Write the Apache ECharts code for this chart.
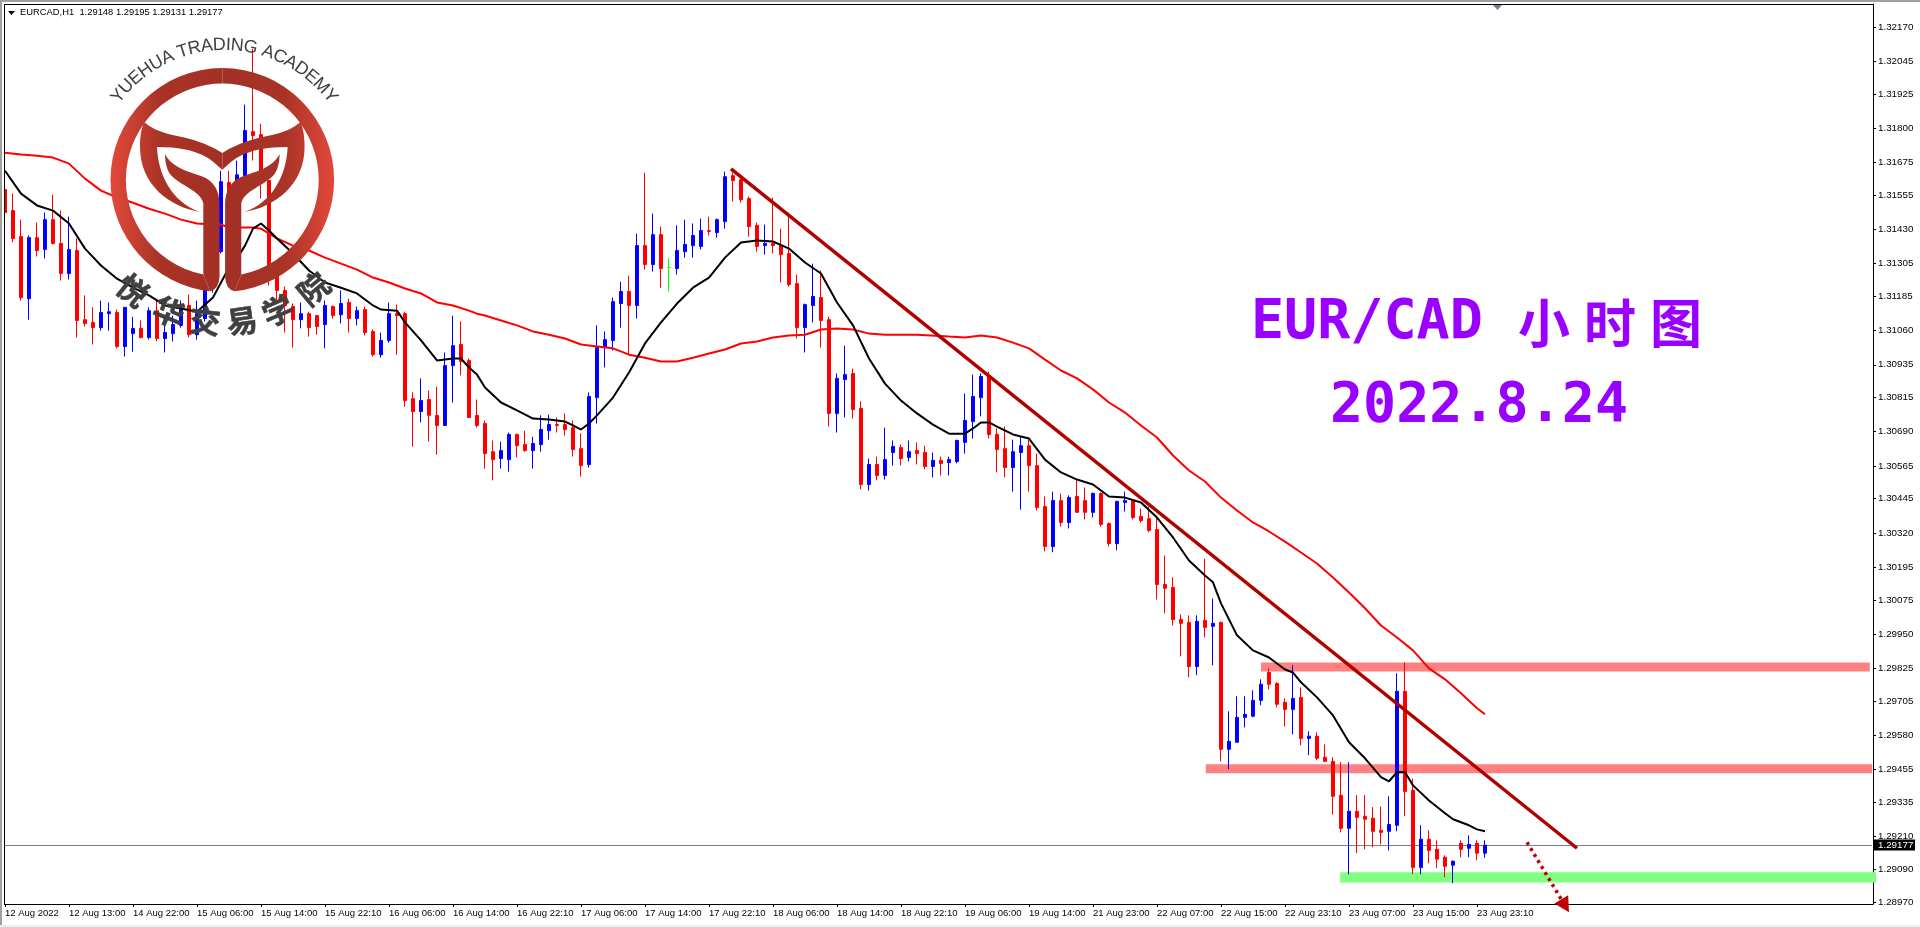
<!DOCTYPE html>
<html>
<head>
<meta charset="utf-8">
<title>EUR/CAD H1</title>
<style>
  html, body { margin: 0; padding: 0; background: #fff; }
  #chart { width: 1920px; height: 927px; }
</style>
<script src="https://cdn.jsdelivr.net/npm/echarts@6/dist/echarts.min.js"></script>
</head>
<body>
<div id="chart"></div>
<script>
// date labels of the time axis, one every 8 candles
const timeLabels = ['12 Aug 2022','12 Aug 13:00','14 Aug 22:00','15 Aug 06:00','15 Aug 14:00','15 Aug 22:10','16 Aug 06:00','16 Aug 14:00','16 Aug 22:10','17 Aug 06:00','17 Aug 14:00','17 Aug 22:10','18 Aug 06:00','18 Aug 14:00','18 Aug 22:10','19 Aug 06:00','19 Aug 14:00','21 Aug 23:00','22 Aug 07:00','22 Aug 15:00','22 Aug 23:10','23 Aug 07:00','23 Aug 15:00','23 Aug 23:10'];
const priceTicks = [1.32170,1.32045,1.31925,1.31800,1.31675,1.31555,1.31430,1.31305,1.31185,1.31060,1.30935,1.30815,1.30690,1.30565,1.30445,1.30320,1.30195,1.30075,1.29950,1.29825,1.29705,1.29580,1.29455,1.29335,1.29210,1.29090,1.28970];

const opens = [
1.31576,1.31499,1.31404,1.31177,1.31400,1.31357,1.31466,1.31379,1.31269,1.31353,
1.31100,1.31090,1.31071,1.31122,1.31126,1.31002,1.31049,1.31068,1.31035,1.31133,
1.31031,1.31049,1.31079,1.31152,1.31045,1.31104,1.31217,1.31349,1.31602,1.31481,
1.31627,1.31788,1.31777,1.31609,1.31280,1.31207,1.31148,1.31100,1.31122,1.31115,
1.31082,1.31148,1.31118,1.31163,1.31104,1.31137,1.31057,1.30972,1.31024,1.31122,
1.31122,1.30811,1.30764,1.30808,1.30750,1.30713,1.30932,1.31009,1.30951,1.30750,
1.30720,1.30617,1.30592,1.30588,1.30680,1.30643,1.30621,1.30643,1.30694,1.30716,
1.30716,1.30705,1.30628,1.30570,1.30815,1.30998,1.31024,1.31159,1.31203,1.31152,
1.31371,1.31302,1.31411,1.31291,1.31287,1.31349,1.31371,1.31368,1.31426,1.31419,
1.31459,1.31627,1.31612,1.31543,1.31445,1.31371,1.31379,1.31371,1.31342,1.31232,
1.31071,1.31152,1.31181,1.31100,1.30757,1.30881,1.30903,1.30775,1.30497,1.30570,
1.30530,1.30614,1.30632,1.30596,1.30621,1.30614,1.30563,1.30585,1.30577,1.30581,
1.30651,1.30727,1.30815,1.30892,1.30680,1.30628,1.30559,1.30614,1.30639,1.30566,
1.30416,1.30270,1.30438,1.30358,1.30453,1.30438,1.30395,1.30464,1.30354,1.30281,
1.30431,1.30438,1.30380,1.30372,1.30332,1.30131,1.30120,1.30003,1.29992,1.29831,
1.30000,1.29978,1.29992,1.29528,1.29554,1.29645,1.29649,1.29707,1.29809,1.29769,
1.29700,1.29674,1.29718,1.29568,1.29576,1.29499,1.29484,1.29360,1.29239,1.29301,
1.29283,1.29276,1.29232,1.29228,1.29250,1.29740,1.29378,1.29096,1.29199,1.29162,
1.29133,1.29104,1.29184,1.29166,1.29184,1.29148];
const closes = [
1.31492,1.31397,1.31181,1.31400,1.31353,1.31466,1.31379,1.31269,1.31357,1.31097,
1.31086,1.31071,1.31126,1.31129,1.31002,1.31145,1.31068,1.31035,1.31133,1.31031,
1.31053,1.31082,1.31137,1.31045,1.31122,1.31221,1.31349,1.31605,1.31481,1.31630,
1.31792,1.31774,1.31645,1.31280,1.31207,1.31152,1.31100,1.31122,1.31071,1.31075,
1.31152,1.31115,1.31159,1.31104,1.31133,1.31053,1.30972,1.31024,1.31122,1.31115,
1.30804,1.30764,1.30804,1.30750,1.30713,1.30932,1.31005,1.30947,1.30742,1.30713,
1.30610,1.30588,1.30621,1.30680,1.30639,1.30621,1.30647,1.30698,1.30716,1.30713,
1.30698,1.30625,1.30566,1.30819,1.30998,1.31027,1.31166,1.31203,1.31152,1.31371,
1.31302,1.31411,1.31287,1.31291,1.31353,1.31375,1.31408,1.31426,1.31423,1.31466,
1.31623,1.31609,1.31539,1.31441,1.31368,1.31379,1.31371,1.31338,1.31228,1.31071,
1.31155,1.31185,1.31097,1.30757,1.30885,1.30899,1.30771,1.30497,1.30570,1.30530,
1.30588,1.30636,1.30592,1.30617,1.30610,1.30563,1.30585,1.30574,1.30588,1.30658,
1.30731,1.30819,1.30892,1.30680,1.30625,1.30559,1.30617,1.30639,1.30566,1.30413,
1.30270,1.30438,1.30358,1.30449,1.30395,1.30395,1.30464,1.30351,1.30281,1.30435,
1.30438,1.30376,1.30365,1.30329,1.30131,1.30117,1.30003,1.29989,1.29831,1.29996,
1.29974,1.29989,1.29528,1.29557,1.29645,1.29656,1.29707,1.29766,1.29766,1.29693,
1.29674,1.29714,1.29568,1.29576,1.29495,1.29484,1.29356,1.29239,1.29301,1.29279,
1.29272,1.29228,1.29224,1.29253,1.29740,1.29374,1.29096,1.29199,1.29158,1.29126,
1.29100,1.29118,1.29162,1.29180,1.29148,1.29177];
const lows = [
1.31488,1.31383,1.31170,1.31100,1.31331,1.31324,1.31375,1.31243,1.31247,1.31034,
1.31075,1.31009,1.31060,1.31060,1.30995,1.30965,1.30983,1.31031,1.31027,1.31020,
1.30980,1.31020,1.31071,1.31035,1.31027,1.31093,1.31199,1.31342,1.31426,1.31445,
1.31609,1.31682,1.31543,1.31225,1.31170,1.31053,1.30998,1.31068,1.31038,1.31045,
1.30995,1.31104,1.31086,1.31053,1.31079,1.31042,1.30965,1.30961,1.31016,1.30972,
1.30782,1.30636,1.30724,1.30654,1.30606,1.30713,1.30797,1.30896,1.30742,1.30705,
1.30555,1.30512,1.30555,1.30544,1.30596,1.30617,1.30555,1.30617,1.30661,1.30687,
1.30676,1.30599,1.30526,1.30559,1.30720,1.30925,1.30987,1.31071,1.30972,1.31104,
1.31283,1.31276,1.31217,1.31203,1.31265,1.31327,1.31327,1.31357,1.31408,1.31400,
1.31433,1.31532,1.31528,1.31404,1.31349,1.31338,1.31342,1.31236,1.31221,1.31031,
1.30980,1.31090,1.30998,1.30709,1.30687,1.30742,1.30738,1.30479,1.30475,1.30512,
1.30515,1.30566,1.30566,1.30581,1.30570,1.30552,1.30523,1.30530,1.30530,1.30574,
1.30610,1.30665,1.30746,1.30665,1.30541,1.30523,1.30471,1.30405,1.30471,1.30402,
1.30252,1.30249,1.30343,1.30336,1.30395,1.30369,1.30376,1.30343,1.30270,1.30256,
1.30398,1.30369,1.30358,1.30322,1.30076,1.30025,1.29981,1.29868,1.29791,1.29799,
1.29937,1.29835,1.29484,1.29455,1.29554,1.29608,1.29645,1.29689,1.29747,1.29681,
1.29612,1.29583,1.29543,1.29506,1.29488,1.29481,1.29290,1.29224,1.29071,1.29148,
1.29162,1.29170,1.29180,1.29158,1.29228,1.29283,1.29071,1.29071,1.29111,1.29093,
1.29060,1.29038,1.29133,1.29133,1.29122,1.29131];
const highs = [
1.31580,1.31561,1.31466,1.31408,1.31456,1.31492,1.31557,1.31499,1.31477,1.31397,
1.31189,1.31145,1.31170,1.31163,1.31137,1.31145,1.31111,1.31097,1.31145,1.31170,
1.31079,1.31115,1.31170,1.31192,1.31170,1.31243,1.31371,1.31645,1.31645,1.31682,
1.31887,1.32091,1.31817,1.31609,1.31309,1.31221,1.31159,1.31163,1.31129,1.31115,
1.31170,1.31152,1.31207,1.31177,1.31148,1.31148,1.31064,1.31053,1.31163,1.31155,
1.31129,1.30834,1.30885,1.30841,1.30855,1.30980,1.31115,1.31093,1.30958,1.30808,
1.30731,1.30658,1.30654,1.30687,1.30683,1.30694,1.30672,1.30750,1.30753,1.30742,
1.30757,1.30731,1.30683,1.30834,1.31079,1.31057,1.31181,1.31239,1.31261,1.31415,
1.31638,1.31488,1.31441,1.31324,1.31445,1.31466,1.31452,1.31470,1.31477,1.31470,
1.31642,1.31638,1.31623,1.31550,1.31456,1.31448,1.31547,1.31433,1.31492,1.31265,
1.31159,1.31305,1.31280,1.31111,1.30903,1.31005,1.30921,1.30801,1.30592,1.30599,
1.30705,1.30658,1.30643,1.30658,1.30651,1.30639,1.30614,1.30599,1.30599,1.30661,
1.30830,1.30899,1.30903,1.30910,1.30702,1.30709,1.30661,1.30672,1.30661,1.30610,
1.30453,1.30471,1.30464,1.30457,1.30512,1.30486,1.30468,1.30468,1.30358,1.30438,
1.30471,1.30442,1.30409,1.30416,1.30383,1.30237,1.30157,1.30022,1.30018,1.30018,
1.30226,1.30080,1.29996,1.29667,1.29722,1.29722,1.29744,1.29784,1.29824,1.29773,
1.29714,1.29835,1.29755,1.29594,1.29590,1.29546,1.29499,1.29481,1.29481,1.29360,
1.29360,1.29316,1.29319,1.29356,1.29806,1.29846,1.29421,1.29250,1.29232,1.29195,
1.29140,1.29122,1.29195,1.29213,1.29195,1.29195];

// moving averages, read at the candles listed in the *Idx arrays
const fastIdx = [0,2,4,6,8,10,12,14,16,18,20,22,24,26,27,28,29,30,31,32,33,34,36,38,40,42,44,46,47,49,50,52,54,56,57,58,59,60,62,64,66,68,70,71,72,73,74,76,78,80,82,84,86,88,90,92,94,96,98,100,102,104,106,108,110,112,114,116,118,120,121,122,123,124,126,128,130,132,134,136,138,140,142,144,146,148,150,151,152,154,156,158,159,160,161,162,164,166,168,170,172,173,174,175,176,178,180,181,182,183,184,185];
const fastMa = [1.31645,1.31561,1.31518,1.31499,1.31452,1.31360,1.31298,1.31250,1.31217,1.31189,1.31152,1.31141,1.31129,1.31181,1.31236,1.31291,1.31324,1.31371,1.31433,1.31452,1.31426,1.31397,1.31342,1.31280,1.31236,1.31217,1.31196,1.31152,1.31137,1.31133,1.31090,1.31024,1.30951,1.30958,1.30958,1.30925,1.30899,1.30852,1.30797,1.30768,1.30738,1.30735,1.30727,1.30713,1.30698,1.30720,1.30750,1.30815,1.30907,1.31013,1.31090,1.31159,1.31217,1.31254,1.31327,1.31382,1.31390,1.31386,1.31360,1.31309,1.31269,1.31163,1.31079,1.30958,1.30866,1.30804,1.30757,1.30716,1.30683,1.30683,1.30702,1.30724,1.30724,1.30709,1.30680,1.30665,1.30588,1.30541,1.30515,1.30497,1.30453,1.30449,1.30431,1.30376,1.30303,1.30219,1.30164,1.30139,1.30062,1.29945,1.29890,1.29864,1.29842,1.29820,1.29809,1.29773,1.29718,1.29652,1.29554,1.29495,1.29426,1.29411,1.29444,1.29444,1.29396,1.29341,1.29294,1.29272,1.29261,1.29250,1.29235,1.29228];
const slowIdx = [0,2,4,6,8,10,12,14,16,18,20,22,24,26,27,28,30,31,32,34,36,38,40,42,44,46,48,50,52,54,56,58,59,60,62,64,66,68,70,72,74,76,78,80,82,84,86,88,90,92,94,96,98,100,102,104,106,108,110,114,118,120,122,124,126,128,130,132,134,136,138,140,142,144,146,148,150,152,154,156,158,160,162,164,166,168,170,172,174,176,178,180,182,184,185];
const slowMa = [1.31711,1.31704,1.31700,1.31693,1.31671,1.31616,1.31572,1.31547,1.31528,1.31506,1.31488,1.31466,1.31452,1.31448,1.31448,1.31437,1.31437,1.31437,1.31433,1.31397,1.31371,1.31353,1.31327,1.31305,1.31283,1.31254,1.31236,1.31214,1.31196,1.31163,1.31152,1.31133,1.31122,1.31115,1.31097,1.31079,1.31057,1.31045,1.31031,1.31009,1.31002,1.30995,1.30972,1.30961,1.30947,1.30947,1.30961,1.30976,1.30991,1.31013,1.31020,1.31035,1.31042,1.31045,1.31064,1.31068,1.31064,1.31049,1.31045,1.31045,1.31038,1.31035,1.31042,1.31035,1.31016,1.30995,1.30954,1.30914,1.30885,1.30845,1.30797,1.30760,1.30713,1.30669,1.30603,1.30548,1.30508,1.30449,1.30402,1.30358,1.30325,1.30288,1.30248,1.30208,1.30157,1.30102,1.30044,1.29981,1.29937,1.29890,1.29824,1.29784,1.29733,1.29678,1.29656];

// support / resistance bands, x in candle numbers
const zoneFrom = [157, 150.1, 166.9];
const zoneTo = [233.1, 233.4, 233.9];
const zoneTop = [1.29846, 1.29473, 1.29078];
const zoneBottom = [1.29813, 1.29440, 1.29041];
const zoneColors = ['#ff8080', '#ff8080', '#80ff80'];
// trend line and dotted arrow, [candle number, price]
const trendFrom = [90.75, 1.31652];
const trendTo = [196.5, 1.29166];
const arrowFrom = [190.25, 1.29188];
const arrowTo = [195.5, 1.28932];

const dojiIndex = 83;
const lastClose = 1.29177;
const headerText = 'EURCAD,H1  1.29148 1.29195 1.29131 1.29177';
const academyEn = 'YUEHUA TRADING ACADEMY';
const academyCn = ['悦', '华', '交', '易', '学', '院'];
const academyCnAngles = [-39, -22, -7, 8, 23, 40];

const axisCount = 234;
const categories = [];
for (let i = 0; i < axisCount; i++) {
  categories.push(i % 8 === 0 && timeLabels[i / 8] ? timeLabels[i / 8] : '');
}
const isTimeTick = function (i) { return i % 8 === 0 && i < timeLabels.length * 8; };

const candles = opens.map(function (o, i) {
  const row = [o, closes[i], lows[i], highs[i]];
  if (i === dojiIndex) {
    return { value: row, itemStyle: { color: '#00ff00', color0: '#00ff00', borderColor: '#00ff00', borderColor0: '#00ff00', borderColorDoji: '#00ff00' } };
  }
  return row;
});

function candleX(api, n) {
  return api.coord([0, priceTicks[0]])[0] + n * api.size([1, 0])[0];
}

const labelFont = '"Liberation Sans", Arial, sans-serif';
const chart = echarts.init(document.getElementById('chart'), null, { renderer: 'canvas' });

function renderZone(params, api) {
  const i = params.dataIndex;
  const x0 = candleX(api, zoneFrom[i]);
  const x1 = candleX(api, zoneTo[i]);
  const y0 = api.coord([0, zoneTop[i]])[1];
  const y1 = api.coord([0, zoneBottom[i]])[1];
  return { type: 'rect', shape: { x: x0, y: y0, width: x1 - x0, height: y1 - y0 }, style: { fill: zoneColors[i] } };
}

function renderTrend(params, api) {
  return {
    type: 'line',
    shape: {
      x1: candleX(api, trendFrom[0]), y1: api.coord([0, trendFrom[1]])[1],
      x2: candleX(api, trendTo[0]), y2: api.coord([0, trendTo[1]])[1]
    },
    style: { stroke: '#b00000', lineWidth: 3.5 }
  };
}

function renderArrow(params, api) {
  const x1 = candleX(api, arrowFrom[0]), y1 = api.coord([0, arrowFrom[1]])[1];
  const x2 = candleX(api, arrowTo[0]), y2 = api.coord([0, arrowTo[1]])[1];
  const len = Math.sqrt((x2 - x1) * (x2 - x1) + (y2 - y1) * (y2 - y1));
  const ux = (x2 - x1) / len, uy = (y2 - y1) / len;
  const bx = x2 - ux * 15, by = y2 - uy * 15;
  return {
    type: 'group',
    children: [
      { type: 'line', shape: { x1: x1, y1: y1, x2: bx, y2: by }, style: { stroke: '#c00000', lineWidth: 3.5, lineDash: [3, 4] } },
      { type: 'polygon', shape: { points: [[x2, y2], [bx - uy * 8, by + ux * 8], [bx + uy * 8, by - ux * 8]] }, style: { fill: '#c00000' } }
    ]
  };
}

// current price: thin line and the black box on the axis
function renderPrice(params, api) {
  const y = Math.round(api.coord([0, lastClose])[1]) + 0.5;
  return {
    type: 'group',
    children: [
      { type: 'line', shape: { x1: 4, y1: y, x2: 1872, y2: y }, style: { stroke: '#708090', lineWidth: 1 } },
      { type: 'rect', shape: { x: 1874, y: y - 6, width: 41, height: 11 }, style: { fill: '#000' } },
      { type: 'text', x: 1878, y: y - 0.5, style: { text: lastClose.toFixed(5), font: '9.8px ' + labelFont, fill: '#fff', verticalAlign: 'middle' } }
    ]
  };
}

// logo on top of the chart, left half gets mirrored for the right half
const logoX = 222.3, logoY = 180;
function renderLogo() {
  const fill = new echarts.graphic.LinearGradient(110, 0, 222, 0, [
    { offset: 0, color: '#e2493a' },
    { offset: 0.45, color: '#a93327' },
    { offset: 1, color: '#a33025' }
  ], true);
  const half = [
    'M222.3 68 A112 112 0 0 0 210 291.3 L203.3 274.6 A96.5 96.5 0 0 1 222.3 83.5 Z',
    'M165 154 C172 168 190 172 201 176 C213 180 219.5 190 219.5 204 L219.5 277 Q219 289 210 291.3 L203.3 274.6 L203.3 203 C200 190 180 186 170 174 C166 168 165 160 165 154 Z',
    'M144 122 C158 134 175 135 190 139 C204 143 215 148 222.3 153 L222.3 170 C212 160 200 147 157 147 C158 175 172 202 200 212 C170 207 140 185 140 147 C140 137 141 130 144 122 Z'
  ].map(function (d) {
    return { type: 'path', shape: { pathData: d }, style: { fill: fill } };
  });
  const children = [
    { type: 'group', children: half },
    { type: 'group', x: logoX * 2, scaleX: -1, children: half.map(function (h) { return Object.assign({}, h); }) }
  ];
  // curved english text
  const measure = document.createElement('canvas').getContext('2d');
  const enFont = '18px "Liberation Sans", Arial, sans-serif';
  measure.font = enFont;
  const enR = 135;
  const total = measure.measureText(academyEn).width;
  let run = 0;
  academyEn.split('').forEach(function (c) {
    const w = measure.measureText(c).width;
    const a = (run + w / 2 - total / 2) / enR;
    run += w;
    children.push({
      type: 'text',
      x: logoX + 2 + enR * Math.sin(a), y: logoY - enR * Math.cos(a), rotation: -a,
      style: { text: c, font: enFont, fill: '#404040', align: 'center', verticalAlign: 'middle' }
    });
  });
  academyCn.forEach(function (c, i) {
    const a = academyCnAngles[i] * Math.PI / 180;
    children.push({
      type: 'text',
      x: logoX + 142 * Math.sin(a), y: logoY + 142 * Math.cos(a), rotation: a,
      style: { text: c, font: 'bold 31px "Noto Sans CJK SC", sans-serif', fill: '#404040', stroke: '#404040', lineWidth: 0.5, align: 'center', verticalAlign: 'middle' }
    });
  });
  return { type: 'group', children: children };
}

const bigMono = 'bold 55px "DejaVu Sans Mono", monospace';
const bigCjk = 'bold 52px "Noto Sans CJK SC", sans-serif';
function bigText(text, x, y, font) {
  return { type: 'text', z: 90, x: x, y: y, style: { text: text, font: font, fill: '#9900ff', align: 'left', verticalAlign: 'middle' } };
}

chart.setOption({
  animation: false,
  backgroundColor: '#ffffff',
  grid: { left: 1, top: 4, width: 1872, height: 900, containLabel: false, show: false },
  xAxis: {
    type: 'category',
    data: categories,
    boundaryGap: true,
    axisLine: { show: true, lineStyle: { color: '#000', width: 1 } },
    axisTick: { show: true, length: 3, alignWithLabel: true, interval: isTimeTick, lineStyle: { color: '#000' } },
    axisLabel: { interval: isTimeTick, align: 'left', margin: 4, color: '#000', fontFamily: labelFont, fontSize: 9.5, hideOverlap: false },
    splitLine: { show: false }
  },
  yAxis: {
    type: 'value',
    position: 'right',
    min: 1.28962,
    max: 1.32255,
    axisLine: { show: true, lineStyle: { color: '#000', width: 1 } },
    axisTick: { show: true, length: 3, customValues: priceTicks, lineStyle: { color: '#000' } },
    axisLabel: {
      customValues: priceTicks, margin: 5, color: '#000', fontFamily: labelFont, fontSize: 9.8,
      formatter: function (v) { return v.toFixed(5); }
    },
    splitLine: { show: false }
  },
  series: [
    { type: 'custom', name: 'zones', z: 1, silent: true, renderItem: renderZone, data: zoneFrom.map(function (v, i) { return [i, zoneTop[i]]; }) },
    { type: 'custom', name: 'price', z: 1, silent: true, renderItem: renderPrice, data: [[0, lastClose]] },
    {
      type: 'candlestick',
      name: 'EURCAD',
      z: 2,
      barWidth: 4,
      clip: true,
      itemStyle: { color: '#0000ff', color0: '#ff0000', borderColor: '#0000ff', borderColor0: '#ff0000', borderColorDoji: '#ff0000', borderWidth: 1 },
      data: candles
    },
    {
      type: 'line', name: 'slow', z: 3, symbol: 'none', silent: true,
      lineStyle: { color: '#ff0000', width: 2 },
      data: slowIdx.map(function (n, i) { return [n, slowMa[i]]; })
    },
    {
      type: 'line', name: 'fast', z: 3, symbol: 'none', silent: true,
      lineStyle: { color: '#000000', width: 2 },
      data: fastIdx.map(function (n, i) { return [n, fastMa[i]]; })
    },
    { type: 'custom', name: 'trend', z: 4, silent: true, renderItem: renderTrend, data: [[0, trendFrom[1]]] },
    { type: 'custom', name: 'arrow', z: 4, silent: true, renderItem: renderArrow, data: [[0, arrowFrom[1]]] },
    { type: 'custom', name: 'logo', z: 5, silent: true, renderItem: renderLogo, data: [[0, priceTicks[0]]] }
  ],
  graphic: [
    // terminal window frame
    { type: 'rect', z: 100, shape: { x: 0, y: 0, width: 4, height: 927 }, style: { fill: '#fff' } },
    { type: 'rect', z: 101, shape: { x: 0, y: 0, width: 2, height: 927 }, style: { fill: '#a0a0a0' } },
    { type: 'rect', z: 101, shape: { x: 0, y: 0, width: 1920, height: 2 }, style: { fill: '#a0a0a0' } },
    { type: 'rect', z: 101, shape: { x: 4, y: 4, width: 1869, height: 1 }, style: { fill: '#000' } },
    { type: 'rect', z: 101, shape: { x: 4, y: 4, width: 1, height: 901 }, style: { fill: '#000' } },
    { type: 'rect', z: 101, shape: { x: 0, y: 925, width: 1920, height: 2 }, style: { fill: '#ededed' } },
    { type: 'polygon', z: 101, shape: { points: [[1493, 5], [1502, 5], [1497.5, 10]] }, style: { fill: '#708090' } },
    { type: 'polygon', z: 101, shape: { points: [[8, 11], [15, 11], [11.5, 15]] }, style: { fill: '#000' } },
    { type: 'text', z: 101, x: 20, y: 12.5, style: { text: headerText, font: '9.4px ' + labelFont, fill: '#000', verticalAlign: 'middle' } },
    bigText('EUR/CAD', 1251, 324, bigMono),
    bigText('小', 1518, 323, bigCjk),
    bigText('时', 1584, 323, bigCjk),
    bigText('图', 1650, 323, bigCjk),
    bigText('2022.8.24', 1330, 407, bigMono)
  ]
});
</script>
</body>
</html>
